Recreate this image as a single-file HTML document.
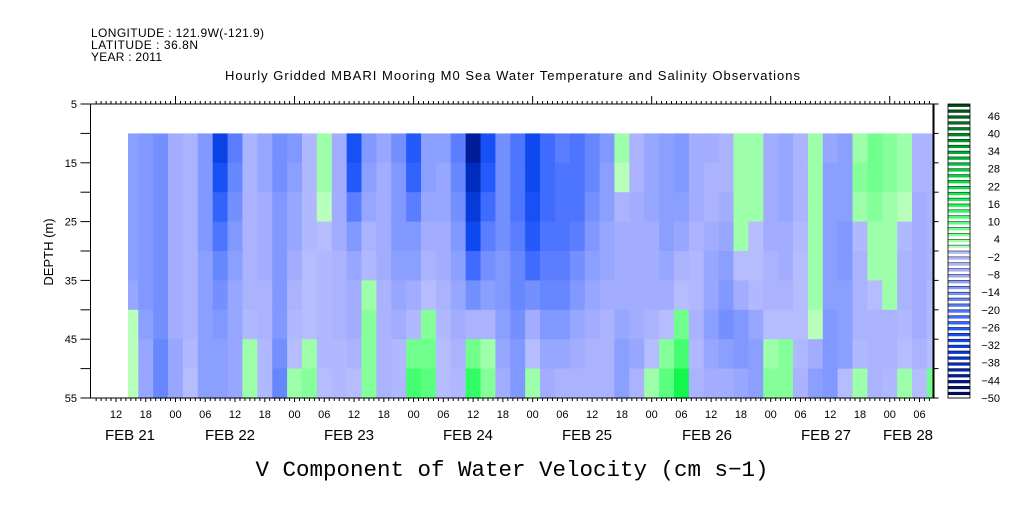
<!DOCTYPE html>
<html><head><meta charset="utf-8"><style>
html,body{margin:0;padding:0;background:#fff;}
svg text{font-family:"Liberation Sans",sans-serif;fill:#000;}
</style></head><body>
<svg id="chart" width="1009" height="504" xmlns="http://www.w3.org/2000/svg">
<text x="91" y="37" font-size="12" textLength="173" lengthAdjust="spacing">LONGITUDE : 121.9W(-121.9)</text>
<text x="91" y="49" font-size="12" textLength="107" lengthAdjust="spacing">LATITUDE : 36.8N</text>
<text x="91" y="61" font-size="12" textLength="71" lengthAdjust="spacing">YEAR : 2011</text>
<text x="225" y="80" font-size="13" textLength="575" lengthAdjust="spacing">Hourly Gridded MBARI Mooring M0 Sea Water Temperature and Salinity Observations</text>
<g id="cells"></g>
<g id="axes"></g>
<g id="cbar"></g>
<text transform="translate(53,252) rotate(-90)" font-size="13" text-anchor="middle">DEPTH (m)</text>
<text x="512" y="476" font-size="22.5" text-anchor="middle" style="font-family:'Liberation Mono',monospace">V Component of Water Velocity (cm s−1)</text>
</svg>
<script>
// time (hours from Feb 22 00:00) of each column, 3-hour bins
const times = [-9,-6,-3,0,3,6,9,12,15,18,21,24,27,30,33,36,39,42,45,48,51,54,57,60,63,66,69,72,75,78,81,84,87,90,93,96,99,102,105,108,111,114,117,120,123,126,129,132,135,138,141,144,147,150,153];
// depth bins (m), top edges; each 5 m thick
const depths = [10,15,20,25,30,35,40,45,50];
// V velocity (cm/s) per column, from top bin to bottom bin
const vel = [
[-12,-12,-12,-12,-12,-10,0,0,0],
[-14,-14,-14,-14,-14,-14,-12,-10,-10],
[-16,-16,-16,-16,-16,-16,-16,-18,-18],
[-8,-8,-8,-8,-8,-8,-8,-10,-10],
[-6,-6,-6,-6,-6,-6,-6,-4,-2],
[-14,-14,-14,-14,-12,-12,-12,-12,-12],
[-34,-30,-26,-22,-18,-16,-14,-12,-12],
[-20,-18,-16,-14,-12,-10,-10,-10,-10],
[-6,-6,-6,-6,-6,-6,-4,2,3],
[-10,-10,-8,-8,-8,-6,-6,-4,-4],
[-16,-16,-14,-14,-14,-14,-14,-16,-18],
[-14,-12,-10,-10,-8,-6,-4,-2,2],
[-4,-4,-4,-4,-2,-2,-2,2,4],
[2,2,0,-2,-4,-4,-4,-4,-2],
[-8,-8,-8,-8,-6,-6,-6,-4,-4],
[-30,-28,-20,-14,-10,-8,-8,-6,-2],
[-14,-12,-10,-6,-4,2,4,4,4],
[-10,-8,-8,-8,-8,-6,-6,-6,-6],
[-16,-14,-14,-14,-12,-10,-8,-4,-4],
[-28,-26,-20,-14,-12,-8,-4,6,10],
[-12,-12,-10,-8,-6,-2,4,6,8],
[-12,-10,-10,-8,-8,-6,-4,-2,-2],
[-20,-18,-16,-14,-12,-10,-8,-6,-4],
[-44,-40,-36,-32,-24,-16,-6,6,12],
[-30,-28,-24,-20,-16,-12,-6,2,4],
[-16,-16,-16,-16,-14,-14,-12,-10,-8],
[-22,-22,-22,-20,-18,-18,-16,-14,-14],
[-32,-32,-30,-28,-24,-16,-8,-2,2],
[-24,-24,-24,-22,-20,-18,-14,-10,-8],
[-20,-22,-22,-22,-20,-18,-14,-10,-6],
[-22,-22,-22,-20,-16,-14,-10,-8,-6],
[-18,-18,-16,-14,-12,-10,-8,-6,-6],
[-14,-12,-12,-10,-10,-8,-6,-6,-6],
[2,0,-6,-8,-8,-8,-10,-12,-12],
[-6,-6,-8,-8,-8,-8,-8,-10,-6],
[-10,-10,-10,-8,-8,-8,-6,-2,2],
[-12,-12,-12,-12,-10,-8,-2,4,8],
[-14,-14,-12,-10,-6,-2,6,10,16],
[-8,-8,-8,-6,-4,-4,-6,-4,-6],
[-8,-6,-6,-8,-10,-10,-12,-10,-8],
[-6,-6,-8,-10,-12,-14,-16,-12,-8],
[2,2,2,2,-2,-8,-14,-14,-10],
[2,2,2,-2,-2,-4,-10,-12,-12],
[-8,-8,-8,-8,-6,-6,-2,2,4],
[-10,-10,-10,-8,-8,-6,-2,4,4],
[-6,-6,-6,-4,-2,-2,-2,-4,-6],
[2,2,2,2,2,2,0,-8,-12],
[-10,-12,-12,-12,-12,-12,-14,-14,-14],
[-12,-12,-12,-14,-14,-12,-12,-12,-2],
[2,4,2,-4,-6,-6,-6,-4,2],
[6,6,4,2,2,-2,-6,-6,-6],
[4,4,2,2,2,2,-6,-6,-4],
[2,2,0,-4,-6,-6,-4,-2,2],
[-6,-6,-8,-8,-8,-8,-8,-6,-2],
[-6,-6,-6,-6,-6,-4,-4,-2,6]
];
const hourLabels = ["12","18","00","06","12","18","00","06","12","18","00","06","12","18","00","06","12","18","00","06","12","18","00","06","12","18","00","06"];
const dayLabels = ["FEB 21","FEB 22","FEB 23","FEB 24","FEB 25","FEB 26","FEB 27","FEB 28"];
const depthTicks = [5,15,25,35,45,55];
const cbarLabels = [-50,-44,-38,-32,-26,-20,-14,-8,-2,4,10,16,22,28,34,40,46];

const NS='http://www.w3.org/2000/svg';
const X0=90.5, X1=933.5, Y0=104, Y1=398;
const xs = t => 175.5 + t*4.96;
const ys = d => Y0 + (d-5)*(Y1-Y0)/50;
const stopsNeg=[[0,[184,192,255]],[-6,[168,176,255]],[-14,[122,148,255]],[-22,[70,112,255]],[-30,[16,76,245]],[-38,[0,48,200]],[-44,[0,24,140]],[-50,[0,10,90]]];
const stopsPos=[[0,[196,255,196]],[4,[144,255,160]],[10,[80,255,120]],[16,[20,250,80]],[28,[0,200,60]],[40,[0,130,35]],[50,[0,70,20]]];
function lerpStops(st,v){
  for(let i=0;i<st.length-1;i++){const a=st[i],b=st[i+1];
    const lo=Math.min(a[0],b[0]),hi=Math.max(a[0],b[0]);
    if(v>=lo&&v<=hi){const f=(v-a[0])/(b[0]-a[0]);return a[1].map((c,k)=>Math.round(c+(b[1][k]-c)*f));}}
  return st[st.length-1][1];
}
function color(v){
  const band=Math.floor(v/2)*2+1;
  const c= band<0?lerpStops(stopsNeg,Math.max(band,-50)):lerpStops(stopsPos,Math.min(band,50));
  return 'rgb('+c.join(',')+')';
}
function el(tag,attrs,parent){const e=document.createElementNS(NS,tag);for(const k in attrs)e.setAttribute(k,attrs[k]);parent.appendChild(e);return e;}

const cells=document.getElementById('cells');
times.forEach((t,i)=>{
  const xa=Math.max(xs(t-1.5),128), xb=Math.min(xs(t+1.5),X1-0.5);
  depths.forEach((d,j)=>{
    const r=el('rect',{x:xa,y:ys(d),width:xb-xa+0.6,height:ys(d+5)-ys(d)+0.6,fill:color(vel[i][j])},cells);
    
    
  });
});

const ax=document.getElementById('axes');
el('rect',{x:X0,y:Y0,width:X1-X0,height:Y1-Y0,fill:'none',stroke:'#000','stroke-width':1},ax);
el('line',{x1:X1,y1:Y0,x2:X1,y2:Y1,stroke:'#000','stroke-width':2},ax);
for(let h=-16;h<=158;h++){
  const x=xs(h); if(x<X0||x>X1) continue;
  const day=(((h%24)+24)%24)===0;
  el('line',{x1:x,y1:Y0,x2:x,y2:Y0-(day?8:3),stroke:'#000','stroke-width':1},ax);
  el('line',{x1:x,y1:Y1,x2:x,y2:Y1+(h%6===0?4:3),stroke:'#000','stroke-width':1},ax);
}
hourLabels.forEach((s,i)=>{
  const t=el('text',{x:xs(-12+6*i),y:418,'font-size':11,'text-anchor':'middle'},ax);
  t.textContent=s;
  
  
});
const dayX=[130,230,349,468,587,707,826,908];
dayLabels.forEach((s,i)=>{
  const t=el('text',{x:dayX[i],y:440,'font-size':15,'text-anchor':'middle'},ax);
  t.textContent=s;
  
  
});
for(let d=5;d<=55;d+=5){
  el('line',{x1:X0-10,y1:ys(d),x2:X0,y2:ys(d),stroke:'#000'},ax);
  el('line',{x1:X1,y1:ys(d),x2:X1+5,y2:ys(d),stroke:'#000'},ax);
}
depthTicks.forEach(d=>{
  const t=el('text',{x:77,y:ys(d)+4,'font-size':11,'text-anchor':'end'},ax);
  t.textContent=String(d);
  
  
});

const cb=document.getElementById('cbar');
const cy = v => 398 - (v+50)*2.94;
for(let v=-50;v<50;v+=2){
  const r=el('rect',{x:948,y:cy(v+2),width:22,height:2.94,fill:color(v+1)},cb);
  
  
  el('line',{x1:948,x2:970,y1:cy(v),y2:cy(v),stroke:'#000','stroke-width':0.5},cb);
}
el('rect',{x:948,y:cy(50),width:22,height:294,fill:'none',stroke:'#000','stroke-width':0.8},cb);
cbarLabels.forEach(v=>{
  const t=el('text',{x:1000,y:cy(v)+4,'font-size':11,'text-anchor':'end'},cb);
  t.textContent=v<0?'−'+(-v):String(v);
  
  
});
</script>
</body></html>
